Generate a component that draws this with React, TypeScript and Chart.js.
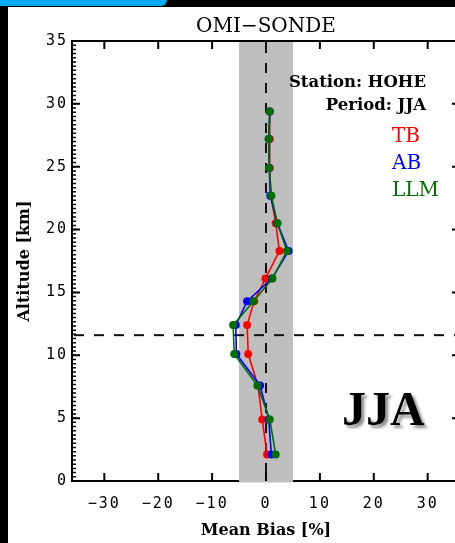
import React, { useEffect, useRef } from "react";
import { Chart, registerables } from "chart.js";

Chart.register(...registerables);

// ---- data ----
const ALTITUDE_KM = [2.1, 4.9, 7.6, 10.1, 12.4, 14.3, 16.1, 18.3, 20.5, 22.7, 24.9, 27.2, 29.4];
const TB_BIAS = [0.2, -0.7, -1.5, -3.3, -3.5, -2.2, -0.1, 2.5, 1.8, 0.9, 0.7, 0.7, 0.7];
const AB_BIAS = [1.0, 0.5, -1.1, -5.5, -5.6, -3.5, 1.1, 4.2, 2.1, 0.8, 0.6, 0.5, 0.7];
const LLM_BIAS = [1.8, 0.7, -1.6, -5.9, -6.1, -2.3, 1.2, 3.9, 2.1, 1.0, 0.6, 0.5, 0.7];

const X_TICKS = [-30, -20, -10, 0, 10, 20, 30];
const Y_TICKS = [0, 5, 10, 15, 20, 25, 30, 35];
const X_MIN = -36;
const X_MAX = 36;
const Y_MIN = 0;
const Y_MAX = 35;
const BAND_LO = -5;
const BAND_HI = 5;
const TROPOPAUSE_KM = 11.6;

const TITLE = "OMI\u2212SONDE";
const X_TITLE = "Mean Bias [%]";
const Y_TITLE = "Altitude [km]";
const STATION_LABEL = "Station: HOHE";
const PERIOD_LABEL = "Period: JJA";
const SEASON_LABEL = "JJA";
const SERIES_NAMES = ["TB", "AB", "LLM"];
const SERIES_COLORS = ["#FF0000", "#0000FF", "#006E00"];

const fmt = (v: number) => (v < 0 ? "\u2212" + Math.abs(v) : String(v));

const pts = (xs: number[]) => xs.map((x, i) => ({ x, y: ALTITUDE_KM[i] }));

const overlay = {
  id: "overlay",
  beforeDraw(chart: any) {
    chart.ctx.letterSpacing = "2px";
  },
  beforeDatasetsDraw(chart: any) {
    const ctx = chart.ctx;
    const { left, right, top, bottom } = chart.chartArea;
    const xs = chart.scales.x;
    const ys = chart.scales.y;
    ctx.save();
    // frame
    ctx.strokeStyle = "#000";
    ctx.lineWidth = 2;
    ctx.strokeRect(left, top, right - left, bottom - top);
    // band
    const b1 = xs.getPixelForValue(BAND_LO);
    const b2 = xs.getPixelForValue(BAND_HI);
    ctx.fillStyle = "#BEBEBE";
    ctx.fillRect(b1, top + 1, b2 - b1, bottom - top + 0.5);
    // ticks
    ctx.lineWidth = 2;
    ctx.beginPath();
    for (const v of X_TICKS) {
      const px = xs.getPixelForValue(v);
      ctx.moveTo(px, bottom);
      ctx.lineTo(px, bottom - 8);
      ctx.moveTo(px, top);
      ctx.lineTo(px, top + 8);
    }
    for (const v of Y_TICKS) {
      const py = ys.getPixelForValue(v);
      ctx.moveTo(left, py);
      ctx.lineTo(left + 8, py);
      ctx.moveTo(right, py);
      ctx.lineTo(right - 8, py);
    }
    ctx.stroke();
    ctx.lineWidth = 1.5;
    ctx.beginPath();
    for (let k = 0; k <= (Y_MAX - Y_MIN) * 3; k++) {
      const py = ys.getPixelForValue(Y_MIN + k / 3);
      ctx.moveTo(left, py);
      ctx.lineTo(left + 4, py);
      ctx.moveTo(right, py);
      ctx.lineTo(right - 4, py);
    }
    ctx.stroke();
    // dashed lines
    ctx.setLineDash([10, 10]);
    ctx.lineWidth = 2;
    ctx.strokeStyle = "#111";
    const x0 = xs.getPixelForValue(0);
    ctx.beginPath();
    ctx.moveTo(x0, top + 2);
    ctx.lineTo(x0, bottom);
    ctx.stroke();
    const yt = ys.getPixelForValue(TROPOPAUSE_KM);
    ctx.beginPath();
    ctx.moveTo(left + 2, yt);
    ctx.lineTo(right, yt);
    ctx.stroke();
    ctx.restore();
  },
  afterDraw(chart: any) {
    const ctx = chart.ctx;
    const { top, bottom } = chart.chartArea;
    const xs = chart.scales.x;
    const cx = xs.getPixelForValue(0);
    ctx.save();
    ctx.letterSpacing = "0px";
    ctx.fillStyle = "#000";
    ctx.textBaseline = "alphabetic";
    // title
    ctx.font = '20px "DejaVu Serif"';
    ctx.textAlign = "center";
    ctx.fillText(TITLE, cx, 32);
    // x title
    ctx.font = 'bold 16px "DejaVu Serif"';
    ctx.fillText(X_TITLE, cx, 535);
    // y title
    ctx.save();
    ctx.translate(29, (top + bottom) / 2);
    ctx.rotate(-Math.PI / 2);
    ctx.fillText(Y_TITLE, 0, 0);
    ctx.restore();
    // station / period
    ctx.textAlign = "right";
    ctx.font = 'bold 16.5px "DejaVu Serif"';
    ctx.fillText(STATION_LABEL, 426, 87);
    ctx.fillText(PERIOD_LABEL, 426, 110);
    // series labels
    ctx.textAlign = "left";
    ctx.font = '20px "DejaVu Serif"';
    const bases = [142, 169, 196];
    SERIES_NAMES.forEach((n, i) => {
      ctx.fillStyle = SERIES_COLORS[i];
      ctx.fillText(n, 392, bases[i]);
    });
    // season
    ctx.fillStyle = "#000";
    ctx.font = 'bold 48px "Liberation Serif"';
    ctx.shadowColor = "rgba(0,0,0,0.45)";
    ctx.shadowOffsetX = 3;
    ctx.shadowOffsetY = 3;
    ctx.shadowBlur = 3;
    ctx.fillText(SEASON_LABEL, 342, 425);
    ctx.restore();
  },
};

export default function App() {
  const ref = useRef<HTMLCanvasElement | null>(null);
  useEffect(() => {
    if (!ref.current) return;
    const order = [3, 2, 1];
    const series = [TB_BIAS, AB_BIAS, LLM_BIAS];
    const chart = new Chart(ref.current, {
      type: "scatter",
      data: {
        datasets: series.map((s, i) => ({
          label: SERIES_NAMES[i],
          data: pts(s),
          showLine: true,
          borderColor: SERIES_COLORS[i],
          backgroundColor: SERIES_COLORS[i],
          borderWidth: 1.6,
          pointRadius: 4,
          pointBorderWidth: 0,
          pointStyle: "circle",
          order: order[i],
        })),
      },
      options: {
        animation: false,
        responsive: false,
        devicePixelRatio: 1,
        layout: { padding: { top: 41, right: 11, bottom: 0, left: 0 } },
        plugins: { legend: { display: false }, tooltip: { enabled: false }, title: { display: false } },
        scales: {
          x: {
            type: "linear",
            min: X_MIN,
            max: X_MAX,
            grid: { display: false, drawTicks: false },
            border: { display: false },
            ticks: {
              autoSkip: false,
              maxRotation: 0,
              padding: 14,
              color: "#000",
              font: { family: "DejaVu Sans Mono", size: 15 },
              callback: (v: any) => fmt(Number(v)),
            },
            afterBuildTicks: (s: any) => {
              s.ticks = X_TICKS.map((v) => ({ value: v }));
            },
            afterFit: (s: any) => {
              s.height = 62;
            },
          },
          y: {
            type: "linear",
            min: Y_MIN,
            max: Y_MAX,
            grid: { display: false, drawTicks: false },
            border: { display: false },
            ticks: {
              autoSkip: false,
              padding: 4,
              color: "#000",
              font: { family: "DejaVu Sans Mono", size: 15 },
              callback: (v: any) => fmt(Number(v)),
            },
            afterBuildTicks: (s: any) => {
              s.ticks = Y_TICKS.map((v) => ({ value: v }));
            },
            afterFit: (s: any) => {
              s.width = 72;
            },
          },
        },
      } as any,
      plugins: [overlay],
    });
    return () => chart.destroy();
  }, []);

  return (
    <div style={{ position: "absolute", left: 0, top: 0, width: 455, height: 543, overflow: "hidden", background: "#000" }}>
      <div style={{ position: "absolute", left: 8, top: 7, right: 0, bottom: 0, background: "#fff" }} />
      <div style={{ position: "absolute", left: 0, top: 0, width: 167, height: 6, background: "#00AEEF", borderBottomRightRadius: 6 }} />
      <canvas ref={ref} width={471} height={543} style={{ position: "absolute", left: 0, top: 0, width: 471, height: 543 }} />
    </div>
  );
}
